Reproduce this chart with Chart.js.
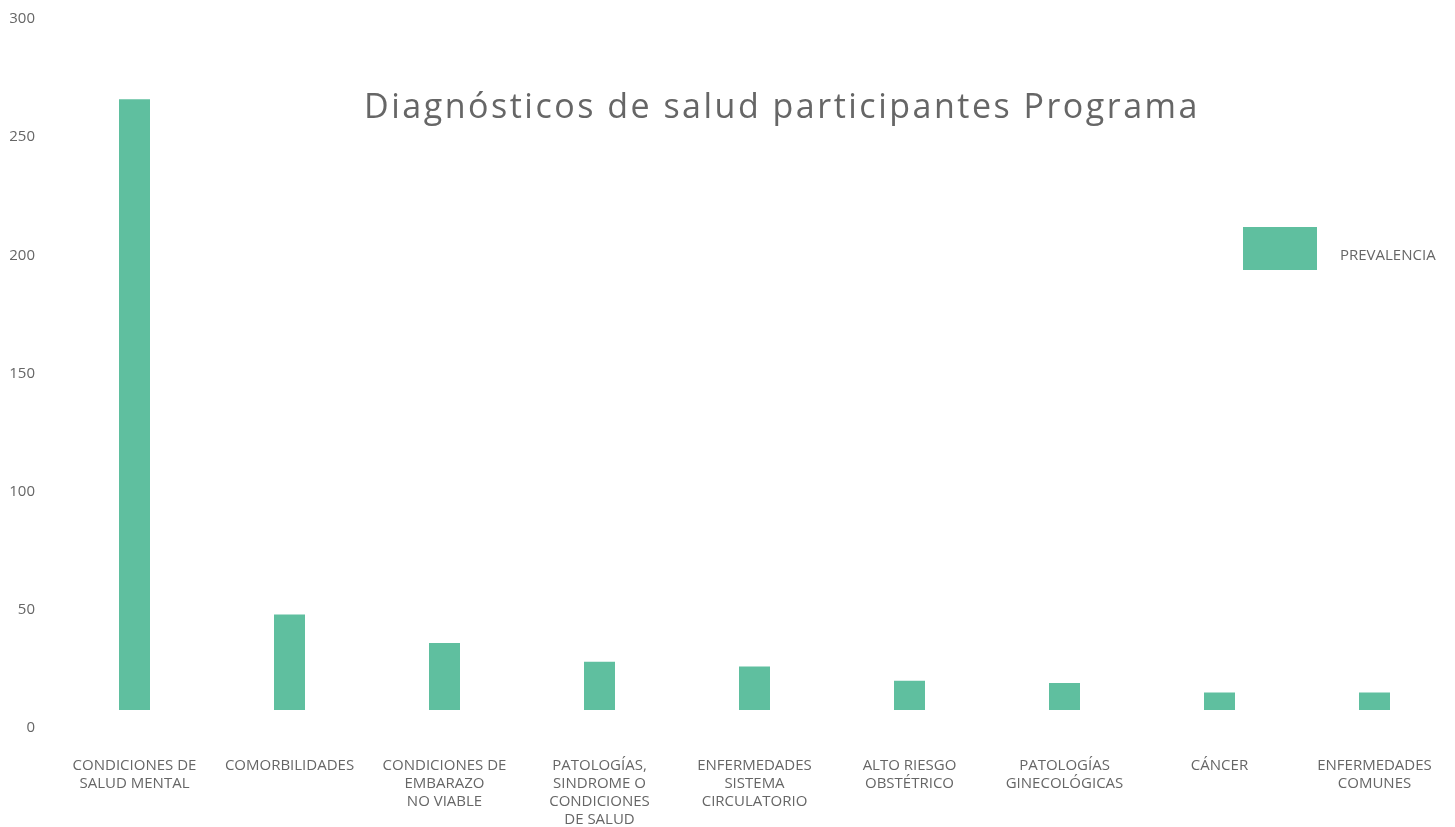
<!DOCTYPE html>
<html>
<head>
<meta charset="utf-8">
<title>Diagnósticos de salud</title>
<script src="https://cdn.jsdelivr.net/npm/chart.js@4.4.1/dist/chart.umd.min.js"></script>
<style>
    html, body { margin: 0; padding: 0; background: #ffffff; }
    #chartCanvas { display: block; }
</style>
</head>
<body>
<canvas id="chartCanvas" width="1455" height="827"></canvas>
<script>
"use strict";

const chartTitle = 'Diagnósticos de salud participantes Programa';
const seriesName = 'PREVALENCIA';

const categories = [
    ['CONDICIONES DE', 'SALUD MENTAL'],
    'COMORBILIDADES',
    ['CONDICIONES DE', 'EMBARAZO', 'NO VIABLE'],
    ['PATOLOGÍAS,', 'SINDROME O', 'CONDICIONES', 'DE SALUD'],
    ['ENFERMEDADES', 'SISTEMA', 'CIRCULATORIO'],
    ['ALTO RIESGO', 'OBSTÉTRICO'],
    ['PATOLOGÍAS', 'GINECOLÓGICAS'],
    'CÁNCER',
    ['ENFERMEDADES', 'COMUNES']
];

const prevalencia = [266, 48, 36, 28, 26, 20, 19, 15, 15];

const yTicks = [0, 50, 100, 150, 200, 250, 300];

const barColor = '#5fbf9f';
const textColor = '#666666';
const fontFamily = '"Open Sans", "Noto Sans", sans-serif';

// title and legend sit on top of the plot area in the original, so draw them after the chart
const overlayText = {
    id: 'overlayText',
    afterDraw(chart) {
        const ctx = chart.ctx;
        ctx.save();
        ctx.fillStyle = textColor;
        ctx.font = '34px ' + fontFamily;
        ctx.letterSpacing = '2.5px';
        ctx.textAlign = 'center';
        ctx.textBaseline = 'alphabetic';
        ctx.fillText(chartTitle, 782, 118);

        ctx.letterSpacing = '0px';
        ctx.fillStyle = barColor;
        ctx.fillRect(1243, 227, 74, 43);
        ctx.fillStyle = textColor;
        ctx.font = '15px ' + fontFamily;
        ctx.textAlign = 'left';
        ctx.textBaseline = 'middle';
        ctx.fillText(chart.data.datasets[0].label, 1340, 256);
        ctx.restore();
    }
};

const ctx = document.getElementById('chartCanvas');

const data = {
    labels: categories,
    datasets: [{
        label: seriesName,
        data: prevalencia,
        backgroundColor: barColor,
        barPercentage: 0.2,
        categoryPercentage: 1.0,
        clip: { left: 0, top: 0, right: 0, bottom: -18 }
    }]
};

const config = {
    type: 'bar',
    data: data,
    plugins: [overlayText],
    options: {
        responsive: false,
        animation: false,
        layout: {
            padding: { left: 10, right: 3, top: 19, bottom: 0 }
        },
        plugins: {
            legend: { display: false },
            title: { display: false },
            tooltip: { enabled: false }
        },
        scales: {
            x: {
                offset: true,
                grid: { display: false, drawTicks: false },
                border: { display: false },
                afterFit(scale) {
                    scale.height = 99;
                    scale.paddingLeft = 0;
                    scale.paddingRight = 0;
                },
                ticks: {
                    color: textColor,
                    padding: 29,
                    maxRotation: 0,
                    autoSkip: false,
                    font: { family: fontFamily, size: 15, lineHeight: 18 / 15 }
                }
            },
            y: {
                min: yTicks[0],
                max: yTicks[yTicks.length - 1],
                grid: { display: false, drawTicks: false },
                border: { display: false },
                afterBuildTicks(scale) {
                    scale.ticks = yTicks.map(v => ({ value: v }));
                },
                afterFit(scale) {
                    scale.width = 47;
                    scale.paddingTop = 0;
                    scale.paddingBottom = 0;
                },
                ticks: {
                    color: textColor,
                    padding: 22,
                    font: { family: fontFamily, size: 15 }
                }
            }
        }
    }
};

new Chart(ctx, config);
</script>
</body>
</html>
